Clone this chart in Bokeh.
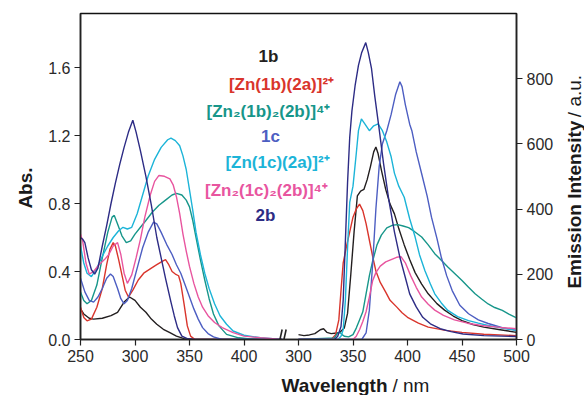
import math
from bokeh.plotting import figure
from bokeh.layouts import row, column
from bokeh.models import Range1d, LinearAxis, FixedTicker, ColumnDataSource, PrintfTickFormatter
from bokeh.embed import file_html
from bokeh.resources import INLINE
from bokeh.core.properties import value

# ---------------- data ----------------
series_names = ["1b", "[Zn(1b)(2a)]²⁺", "[Zn₂(1b)₂(2b)]⁴⁺", "1c", "[Zn(1c)(2a)]²⁺", "[Zn₂(1c)₂(2b)]⁴⁺", "2b"]
series_colors = ["#231f20", "#d9352c", "#17968a", "#4d5ec2", "#1cb4d8", "#e8559f", "#2d2c85"]

# Absorption (left panel): wavelength / nm, Abs.
abs_1b_x = [250, 253, 258, 262, 270, 278, 284, 290, 295, 300, 305, 310, 315, 320, 326, 332, 338, 345, 355, 435]
abs_1b_y = [0.18, 0.15, 0.125, 0.12, 0.125, 0.14, 0.16, 0.22, 0.25, 0.23, 0.19, 0.16, 0.12, 0.09, 0.06, 0.04, 0.02, 0.005, 0.0, 0.0]

abs_red_x = [250, 253, 256, 260, 265, 270, 274, 277, 280, 282, 285, 288, 291, 294, 298, 303, 308, 315, 320, 325, 328, 331, 334, 337, 340, 342, 345, 348, 351, 355, 435]
abs_red_y = [0.19, 0.13, 0.11, 0.12, 0.19, 0.30, 0.44, 0.53, 0.57, 0.55, 0.47, 0.38, 0.29, 0.25, 0.29, 0.35, 0.39, 0.42, 0.44, 0.46, 0.47, 0.44, 0.40, 0.385, 0.375, 0.33, 0.21, 0.08, 0.02, 0.0, 0.0]

abs_teal_x = [250, 253, 256, 260, 265, 270, 275, 279, 281, 284, 288, 292, 296, 300, 305, 310, 316, 322, 328, 334, 338, 343, 347, 350, 353, 356, 360, 364, 368, 372, 377, 384, 395, 410, 435]
abs_teal_y = [0.28, 0.23, 0.21, 0.23, 0.32, 0.48, 0.63, 0.72, 0.73, 0.68, 0.61, 0.57, 0.58, 0.62, 0.66, 0.70, 0.75, 0.79, 0.82, 0.85, 0.86, 0.85, 0.82, 0.78, 0.70, 0.60, 0.47, 0.35, 0.24, 0.15, 0.08, 0.03, 0.01, 0.0, 0.0]

abs_1c_x = [250, 254, 258, 262, 266, 270, 274, 277.5, 280, 284, 287, 290, 293, 297, 302, 307, 312, 317, 320, 324, 329, 334, 338, 342, 346, 350, 354, 358, 362, 367, 372, 380, 435]
abs_1c_y = [0.36, 0.28, 0.23, 0.22, 0.25, 0.30, 0.36, 0.385, 0.37, 0.30, 0.24, 0.21, 0.23, 0.30, 0.42, 0.54, 0.63, 0.69, 0.68, 0.63, 0.56, 0.50, 0.44, 0.39, 0.32, 0.25, 0.18, 0.12, 0.07, 0.035, 0.015, 0.0, 0.0]

abs_cyan_x = [250, 253, 256, 260, 265, 270, 275, 280, 285, 289, 293, 297, 302, 307, 312, 318, 324, 330, 333, 337, 341, 344, 347, 350, 353, 356, 360, 364, 368, 373, 378, 384, 390, 400, 415, 435]
abs_cyan_y = [0.55, 0.45, 0.39, 0.37, 0.42, 0.49, 0.55, 0.60, 0.64, 0.66, 0.65, 0.66, 0.74, 0.85, 0.96, 1.06, 1.13, 1.175, 1.185, 1.17, 1.14, 1.08, 1.00, 0.88, 0.76, 0.63, 0.50, 0.39, 0.30, 0.21, 0.14, 0.09, 0.05, 0.025, 0.01, 0.0]

abs_pink_x = [250, 252, 255, 258, 262, 267, 272, 276, 280, 284, 287, 290, 293, 297, 301, 305, 309, 314, 318, 322, 327, 332, 335, 338, 341, 344, 347, 350, 354, 358, 362, 367, 373, 380, 390, 400, 415, 435]
abs_pink_y = [0.62, 0.58, 0.45, 0.385, 0.40, 0.44, 0.47, 0.50, 0.55, 0.57, 0.50, 0.39, 0.33, 0.38, 0.48, 0.59, 0.72, 0.85, 0.93, 0.965, 0.96, 0.945, 0.91, 0.84, 0.74, 0.62, 0.52, 0.43, 0.33, 0.25, 0.19, 0.14, 0.10, 0.07, 0.04, 0.02, 0.01, 0.0]

abs_2b_x = [250, 252, 254, 257, 260, 263, 266, 270, 274, 278, 282, 286, 290, 294, 298, 301, 305, 310, 315, 320, 324, 328, 333, 336, 339, 343, 348, 355, 435]
abs_2b_y = [0.60, 0.59, 0.57, 0.48, 0.41, 0.385, 0.42, 0.55, 0.67, 0.80, 0.92, 1.03, 1.13, 1.22, 1.29, 1.22, 1.11, 0.96, 0.79, 0.60, 0.48, 0.36, 0.22, 0.14, 0.07, 0.02, 0.005, 0.0, 0.0]

# Emission (right panel): wavelength / nm, intensity / a.u.
em_1b_x = [300, 305, 310, 315, 320, 323, 326, 330, 335, 338, 342, 345, 348, 351, 354, 357, 360, 363, 366, 369, 371, 373, 376, 380, 384, 388, 392, 397, 402, 407, 413, 419, 427, 434, 442, 450, 460, 470, 485, 500]
em_1b_y = [15, 12, 14, 18, 30, 33, 22, 18, 20, 22, 35, 80, 200, 330, 440, 455, 460, 490, 530, 575, 590, 570, 520, 460, 415, 385, 340, 290, 245, 205, 170, 140, 110, 90, 72, 58, 46, 38, 30, 22]

em_red_x = [300, 330, 334, 337, 339, 341, 344, 347, 350, 353, 356, 359, 362, 365, 368, 371, 375, 380, 384, 390, 395, 400, 410, 419, 435, 450, 470, 500]
em_red_y = [0, 0, 15, 60, 150, 235, 285, 330, 375, 400, 415, 395, 355, 305, 255, 210, 175, 145, 120, 100, 82, 68, 50, 38, 28, 22, 16, 12]

em_teal_x = [300, 333, 336, 338, 340, 342, 346, 350, 353, 356, 359, 362, 365, 368, 372, 376, 381, 386, 391, 396, 401, 406, 413, 419, 425, 431, 437, 444, 450, 456, 462, 468, 474, 480, 487, 493, 500]
em_teal_y = [0, 5, 20, 22, 15, 10, 8, 15, 35, 60, 85, 140, 195, 240, 290, 320, 342, 350, 352, 348, 343, 332, 314, 290, 263, 243, 222, 200, 181, 160, 140, 124, 109, 98, 89, 78, 66]

em_1c_x = [300, 358, 362, 365, 368, 371, 374, 377, 381, 385, 389, 393, 395, 398, 402, 404, 408, 413, 418, 422, 427, 431, 436, 441, 448, 456, 465, 474, 487, 500]
em_1c_y = [0, 0, 20, 90, 230, 400, 530, 600, 640, 690, 750, 790, 775, 720, 660, 640, 575, 508, 440, 375, 310, 252, 195, 150, 105, 79, 60, 49, 36, 28]

em_cyan_x = [300, 336, 339, 341, 343, 345, 347, 350, 353, 355, 357.7, 361, 365, 369, 373, 377, 381, 385, 388, 392, 397, 402, 407, 411, 416, 421, 425, 431, 437, 446, 456, 465, 474, 487, 500]
em_cyan_y = [0, 0, 10, 30, 120, 280, 420, 470, 570, 640, 676, 660, 640, 655, 661, 640, 605, 560, 510, 470, 436, 370, 314, 260, 211, 170, 140, 112, 89, 70, 58, 50, 43, 35, 28]

em_pink_x = [300, 350, 353, 356, 359, 362, 365, 368, 371, 375, 380, 385, 390, 394, 398, 403, 408, 413, 419, 425, 433, 443, 455, 468, 485, 500]
em_pink_y = [0, 0, 10, 30, 55, 85, 130, 180, 205, 225, 238, 245, 252, 254, 235, 195, 160, 130, 108, 90, 74, 60, 50, 43, 37, 33]

em_2b_x = [300, 333, 336, 339, 341, 343, 345, 347, 349, 352, 355, 358, 361.7, 364, 367, 370, 374, 378, 383, 388, 393, 398, 402, 408, 414, 421, 430, 440, 451, 470, 500]
em_2b_y = [0, 0, 10, 40, 120, 300, 480, 620, 700, 780, 840, 880, 910, 880, 830, 745, 645, 540, 425, 330, 252, 190, 140, 100, 68, 48, 33, 24, 17, 12, 9]

abs_x = [abs_1b_x, abs_red_x, abs_teal_x, abs_1c_x, abs_cyan_x, abs_pink_x, abs_2b_x]
abs_y = [abs_1b_y, abs_red_y, abs_teal_y, abs_1c_y, abs_cyan_y, abs_pink_y, abs_2b_y]
em_x = [em_1b_x, em_red_x, em_teal_x, em_1c_x, em_cyan_x, em_pink_x, em_2b_x]
em_y = [em_1b_y, em_red_y, em_teal_y, em_1c_y, em_cyan_y, em_pink_y, em_2b_y]

abs_ticks = [0.0, 0.4, 0.8, 1.2, 1.6]
em_ticks = [0, 200, 400, 600, 800]
abs_wl_ticks = [250, 300, 350, 400]
em_wl_ticks = [300, 350, 400, 450, 500]

# ---------------- layout ----------------
TOTAL_W, TOTAL_H = 584, 395
LEFT_W, RIGHT_W, BOTTOM_H = 36, 28, 27
MAIN_W = TOTAL_W - LEFT_W - RIGHT_W
MAIN_H = TOTAL_H - BOTTOM_H
B_LEFT, B_RIGHT, B_TOP = 44, 40, 13
B_BOTTOM = MAIN_H - 339
X0, X1 = 250, 650          # combined axis: absorption 250-435, then the emission panel
EM_X0, EM_X1 = 100, 500    # emission range, aligned so that 500 nm sits at the right edge
OFFSET = X1 - EM_X1
BREAK = 435
FW = MAIN_W - B_LEFT - B_RIGHT
FH = MAIN_H - B_TOP - B_BOTTOM
Y1 = 1.6 * FH / 272.0
EM_Y1 = 800 * FH / 261.0

FONT = "Liberation Sans"
TXT = "#1a1a1a"


def px2x(px):   # page pixel -> main data x
    return X0 + (px - LEFT_W - B_LEFT) * (X1 - X0) / FW


def py2y(py):   # page pixel -> main data y
    return (B_TOP + FH - py) * Y1 / FH


p = figure(width=MAIN_W, height=MAIN_H, x_range=Range1d(X0, X1), y_range=Range1d(0, Y1),
           output_backend="svg", toolbar_location=None, title=None,
           min_border_left=B_LEFT, min_border_right=B_RIGHT,
           min_border_top=B_TOP, min_border_bottom=B_BOTTOM)
p.extra_x_ranges = {"em": Range1d(EM_X0, EM_X1)}
p.extra_y_ranges = {"em": Range1d(0, EM_Y1)}
p.grid.visible = False
p.outline_line_color = "#111111"
p.outline_line_width = 1.6

for xs, ys, c in zip(abs_x, abs_y, series_colors):
    keep = [i for i, x in enumerate(xs) if x <= BREAK]
    p.line([xs[i] for i in keep], [ys[i] for i in keep], line_color=c, line_width=1.4)
for xs, ys, c in zip(em_x, em_y, series_colors):
    p.line(xs, ys, line_color=c, line_width=1.4, x_range_name="em", y_range_name="em")

# axes
xt = abs_wl_ticks + [t + OFFSET for t in em_wl_ticks]
p.xaxis.ticker = FixedTicker(ticks=xt)
p.xaxis.major_label_overrides = {t + OFFSET: str(t) for t in em_wl_ticks}
p.yaxis.ticker = FixedTicker(ticks=abs_ticks)
p.yaxis.formatter = PrintfTickFormatter(format="%.1f")

ax_r = LinearAxis(y_range_name="em", ticker=FixedTicker(ticks=em_ticks))
p.add_layout(ax_r, "right")

for ax in [p.xaxis[0], p.yaxis[0], ax_r]:
    ax.major_tick_out = 6
    ax.major_tick_in = 0
    ax.minor_tick_out = 0
    ax.minor_tick_in = 0
    ax.axis_line_color = "#222222"
    ax.axis_line_width = 1.4
    ax.major_tick_line_color = "#222222"
    ax.major_tick_line_width = 1.2
    ax.major_label_text_font = FONT
    ax.major_label_text_font_size = "16px"
    ax.major_label_text_color = "#2a2a2a"
    ax.major_label_standoff = 4

# axis break mark (two slanted strokes on the bottom axis)
dx = (X1 - X0) / FW
dy = Y1 / FH
p.segment(x0=[BREAK - 4 * dx, BREAK + 0 * dx], y0=[-8 * dy, -8 * dy],
          x1=[BREAK - 0 * dx, BREAK + 4 * dx], y1=[10 * dy, 10 * dy],
          line_color="#222222", line_width=1.6)

# coloured text legend
leg_px = [268, 281, 268, 270, 277, 266, 265]
leg_py = [56, 84, 111, 136, 162, 190, 215]
src = ColumnDataSource(dict(x=[px2x(v) for v in leg_px], y=[py2y(v) for v in leg_py],
                            text=series_names, color=series_colors))
p.text(x="x", y="y", text="text", text_color="color", source=src,
       text_font=value(FONT), text_font_size=value("17px"), text_font_style="bold",
       text_align="center", text_baseline="middle")


def side_fig(w, h):
    f = figure(width=w, height=h, x_range=Range1d(0, w), y_range=Range1d(0, h),
               output_backend="svg", toolbar_location=None, title=None,
               x_axis_type=None, y_axis_type=None, min_border=0,
               min_border_left=0, min_border_right=0, min_border_top=0, min_border_bottom=0)
    f.grid.visible = False
    f.outline_line_color = None
    return f


def put(f, x, y, text, bold=True, align="center", baseline="middle", angle=0.0):
    f.text(x=[x], y=[y], text=[text], angle=angle, text_align=align, text_baseline=baseline,
           text_font=value(FONT), text_font_size=value("19px"), text_color=TXT,
           text_font_style="bold" if bold else "normal")


# left title: "Abs."
fl = side_fig(LEFT_W, MAIN_H)
put(fl, 25, MAIN_H - 197, "Abs.", angle=math.pi / 2)

# right title: "Emission Intensity / a.u."
fr = side_fig(RIGHT_W, MAIN_H)
put(fr, 18, MAIN_H - 121, "Emission Intensity", align="right", angle=math.pi / 2)
put(fr, 18, MAIN_H - 117, "/ a.u.", bold=False, align="left", angle=math.pi / 2)

# bottom title: "Wavelength / nm"
fb = side_fig(TOTAL_W, BOTTOM_H)
put(fb, 387, TOTAL_H - 385, "Wavelength", align="right")
put(fb, 392, TOTAL_H - 385, "/ nm", bold=False, align="left")

layout = column(row(fl, p, fr), fb)

open("out.html", "w").write(file_html(layout, INLINE))
